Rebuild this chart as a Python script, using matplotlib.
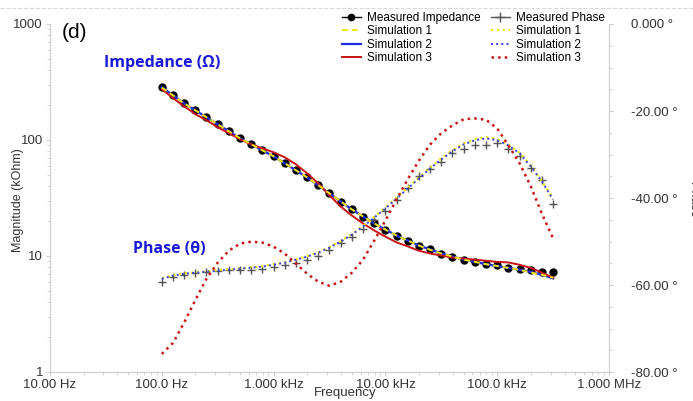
import numpy as np
import matplotlib.pyplot as plt
from matplotlib.lines import Line2D
from matplotlib.ticker import FixedLocator, LogLocator, NullFormatter, MultipleLocator

plt.rcParams['font.family'] = ['Liberation Sans', 'DejaVu Sans']

# frequencias da varredura (Hz), 10 pontos por decada
freq = [100, 126, 158, 200, 251, 316, 398, 501, 631, 794,
        1000, 1259, 1585, 1995, 2512, 3162, 3981, 5012, 6310, 7943,
        10000, 12589, 15849, 19953, 25119, 31623, 39811, 50119, 63096, 79433,
        100000, 125893, 158489, 199526, 251189, 316228]

# modulo da impedancia (kOhm)
z_med = [285.5, 243, 207.6, 180.6, 157.1, 136.7, 118.9, 103.4, 91.8, 81.5,
         72.3, 62.9, 54.7, 47.6, 40.6, 34.6, 29.5, 25.2, 21.9, 19.1,
         16.9, 15.0, 13.6, 12.3, 11.4, 10.5, 9.9, 9.3, 8.9, 8.6,
         8.3, 7.9, 7.8, 7.5, 7.3, 7.3]
z_sim1 = [283, 242, 207, 180, 157, 136.5, 118.8, 103.5, 91.8, 81.5,
          72.4, 63.0, 54.8, 47.6, 40.7, 34.7, 29.6, 25.2, 21.9, 19.1,
          16.9, 15.0, 13.6, 12.3, 11.3, 10.5, 9.9, 9.3, 8.9, 8.5,
          8.2, 7.9, 7.6, 7.2, 6.9, 6.5]
z_sim2 = [284, 243, 207, 180, 157, 136.5, 118.8, 103.4, 91.7, 81.4,
          72.3, 62.9, 54.7, 47.5, 40.6, 34.6, 29.5, 25.2, 21.9, 19.1,
          16.9, 15.0, 13.6, 12.3, 11.4, 10.5, 9.9, 9.3, 8.9, 8.5,
          8.2, 7.9, 7.6, 7.3, 6.9, 6.4]
z_sim3 = [274.3, 229.3, 195.6, 166.8, 148.0, 128.8, 114.3, 101.4, 91.8, 84.8,
          78.3, 70.9, 61.7, 51.6, 42.3, 33.3, 26.7, 22.3, 19.1, 16.6,
          14.7, 13.1, 12.1, 11.1, 10.5, 10.1, 9.7, 9.5, 9.3, 9.1,
          8.9, 8.8, 8.4, 7.9, 7.2, 6.5]

# fase (graus)
f_med = [-59.25, -58.10, -57.64, -57.18, -56.95, -56.72, -56.60, -56.48, -56.48, -56.25,
         -55.79, -55.33, -54.87, -54.18, -53.26, -51.87, -50.26, -48.88, -47.03, -44.96,
         -42.88, -40.35, -37.81, -35.04, -33.43, -31.82, -29.74, -28.82, -27.90, -27.90,
         -27.44, -28.82, -30.43, -33.20, -35.97, -41.27]
f_sim1 = [-58.4, -57.8, -57.3, -57.1, -56.9, -56.6, -56.4, -56.2, -55.9, -55.7,
          -55.2, -54.8, -54.1, -53.4, -52.5, -51.3, -49.9, -48.3, -46.4, -44.3,
          -42.2, -39.9, -37.6, -35.3, -33.0, -30.9, -29.0, -27.4, -26.5, -26.0,
          -26.5, -27.7, -29.6, -32.6, -36.1, -40.2]
f_sim2 = [-58.56, -57.87, -57.41, -57.18, -56.95, -56.72, -56.48, -56.25, -56.02, -55.79,
          -55.33, -54.87, -54.18, -53.49, -52.57, -51.41, -50.03, -48.42, -46.57, -44.50,
          -42.42, -40.12, -37.81, -35.50, -33.20, -31.12, -29.28, -27.67, -26.74, -26.28,
          -26.74, -27.90, -29.74, -32.74, -36.20, -40.35]
f_sim3 = [-75.85, -73.31, -68.70, -63.40, -58.56, -54.87, -52.10, -50.49, -50.03, -50.26,
          -51.18, -52.80, -55.10, -57.41, -59.25, -60.17, -59.25, -57.18, -54.18, -49.80,
          -45.19, -40.30, -35.70, -31.40, -27.70, -25.10, -23.30, -21.90, -21.70, -22.00,
          -24.00, -27.90, -32.00, -37.30, -43.60, -49.30]

xticks = [10, 100, 1e3, 1e4, 1e5, 1e6]
xtick_lbl = ['10.00 Hz', '100.0 Hz', '1.000 kHz', '10.00 kHz', '100.0 kHz', '1.000 MHz']
yticks_ph = [0, -20, -40, -60, -80]
ytick_ph_lbl = ['0.000 °', '-20.00 °', '-40.00 °', '-60.00 °', '-80.00 °']

cinza, txt = '#cfcfcf', '#333333'
fig = plt.figure(figsize=(6.93, 4.01), dpi=100)
ax = fig.add_axes([50/693, 1-372/401, 559/693, 348/401])
ax2 = ax.twinx()

# impedancia no eixo esquerdo
ax.plot(freq, z_med, 'o', color='black', ms=5, zorder=2)
ax.plot(freq, z_sim2, '-', color='#1f2fe0', lw=1.6, zorder=3)
ax.plot(freq, z_sim1, '--', color='#f2e600', lw=1.4, dashes=(3, 2), zorder=4)
ax.plot(freq, z_sim3, '-', color='#c81414', lw=1.4, zorder=3)
ax.set_xscale('log'); ax.set_yscale('log')
ax.set_xlim(10, 1e6); ax.set_ylim(1, 1000)

# fase no eixo direito
ax2.plot(freq, f_med, '+', color='#555555', ms=6, mew=1.0, zorder=2)
ax2.plot(freq, f_sim1, ':', color='#f2e600', lw=1.6, zorder=3)
ax2.plot(freq, f_sim2, ':', color='#3040e8', lw=1.4, zorder=3)
ax2.plot(freq, f_sim3, ':', color='#c81414', lw=1.8, zorder=3)
ax2.set_ylim(-80, 0)

for a in (ax, ax2):
    for s in a.spines.values():
        s.set_color(cinza); s.set_linewidth(0.8)
    a.spines['top'].set_visible(False)
    a.tick_params(which='both', color=cinza, labelcolor=txt, labelsize=9.5)
    a.tick_params(which='major', length=3)
    a.tick_params(which='minor', length=2)

ax.set_xticks(xticks); ax.set_xticklabels(xtick_lbl)
ax.xaxis.set_minor_locator(LogLocator(base=10, subs=np.arange(2, 10)))
ax.xaxis.set_minor_formatter(NullFormatter())
ax.set_yticks([1, 10, 100, 1000]); ax.set_yticklabels(['1', '10', '100', '1000'])
ax.yaxis.set_minor_locator(LogLocator(base=10, subs=np.arange(2, 10)))
ax.yaxis.set_minor_formatter(NullFormatter())
ax.tick_params(axis='x', pad=2); ax.tick_params(axis='y', pad=2)
ax2.yaxis.set_major_locator(FixedLocator(yticks_ph)); ax2.set_yticklabels(ytick_ph_lbl)
ax2.yaxis.set_minor_locator(MultipleLocator(5))
ax2.tick_params(axis='y', pad=13)

fig.text(345/693, 1-393/401, 'Frequency', ha='center', va='center', fontsize=9.5, color=txt)
fig.text(18/693, 1-200/401, 'Magnitude (kOhm)', ha='center', va='center', rotation=90,
         fontsize=9, color=txt)
fig.text(687/693, 1-200/401, 'Phase', ha='left', va='center', rotation=270,
         fontsize=9, color=txt)
fig.add_artist(Line2D([0, 1], [1-8/401, 1-8/401], color='#d8d8d8', lw=0.8, ls='--'))

fig.text(62/693, 1-32/401, '(d)', ha='left', va='center', fontsize=15, color='black')
fig.text(104/693, 1-63/401, 'Impedance (Ω)', ha='left', va='center', fontsize=11.5,
         fontweight='bold', color='#1a1ad8', family=['Open Sans', 'DejaVu Sans'])
fig.text(133/693, 1-249/401, 'Phase (θ)', ha='left', va='center', fontsize=11.5,
         fontweight='bold', color='#1a1ad8', family=['Open Sans', 'DejaVu Sans'])

# legenda em duas colunas (proxies com linha + marcador como no original)
hs = [Line2D([], [], color='black', marker='o', ms=4.5, lw=1),
      Line2D([], [], color='#f2e600', ls='--', dashes=(3, 2), lw=1.4),
      Line2D([], [], color='#1f2fe0', lw=1.6),
      Line2D([], [], color='#c81414', lw=1.4),
      Line2D([], [], color='#555555', marker='+', ms=7, lw=1),
      Line2D([], [], color='#f2e600', ls=':', lw=1.6),
      Line2D([], [], color='#3040e8', ls=':', lw=1.4),
      Line2D([], [], color='#c81414', ls=':', lw=1.8)]
lbls = ['Measured Impedance', 'Simulation 1', 'Simulation 2', 'Simulation 3',
        'Measured Phase', 'Simulation 1', 'Simulation 2', 'Simulation 3']
fig.legend(hs, lbls, ncol=2, loc='upper left', bbox_to_anchor=(342/693, 1-12/401),
           frameon=False, fontsize=8.5, handlelength=1.6, handletextpad=0.5,
           columnspacing=0.9, labelspacing=0.12, borderaxespad=0, borderpad=0)

plt.savefig('out.png', dpi=100)
